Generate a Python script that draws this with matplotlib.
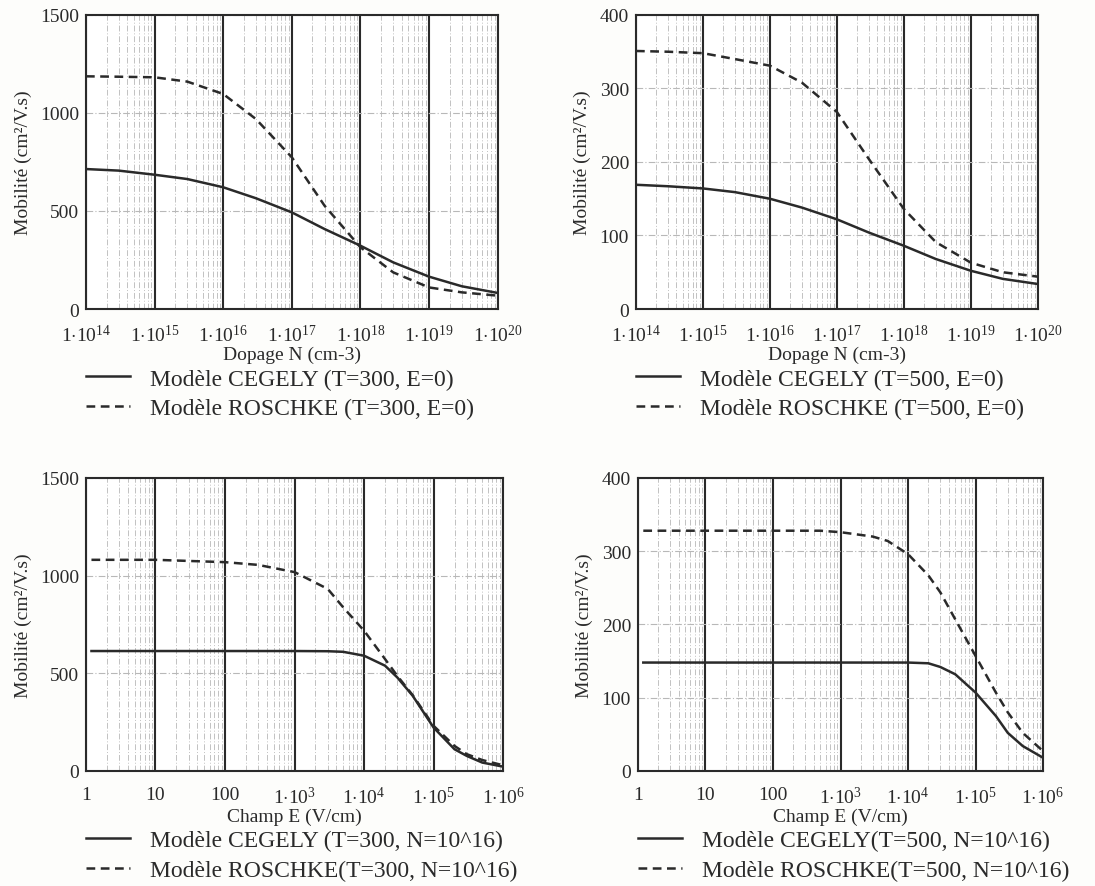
import matplotlib
matplotlib.use("Agg")
import matplotlib.pyplot as plt
from matplotlib.ticker import FixedLocator, LogLocator, NullFormatter
from matplotlib.lines import Line2D

plt.rcParams['font.family'] = ['Liberation Serif', 'DejaVu Serif']
plt.rcParams['mathtext.fontset'] = 'custom'
plt.rcParams['mathtext.rm'] = 'Liberation Serif'
plt.rcParams['mathtext.it'] = 'Liberation Serif:italic'

# ---------------- data ----------------
# Top row: mobility vs doping N (cm-3)
dop_N = [1e14, 3e14, 1e15, 3e15, 1e16, 3e16, 1e17, 3e17, 1e18, 3e18, 1e19, 3e19, 1e20]
cegely_T300_E0 = [714, 706, 685, 663, 621, 565, 493, 408, 323, 238, 165, 116, 82]
roschke_T300_E0 = [1187, 1185, 1182, 1160, 1097, 969, 774, 527, 315, 187, 110, 85, 68]
cegely_T500_E0 = [169, 167, 164, 159, 150, 138, 122, 104, 86, 68, 52, 41, 34]
roschke_T500_E0 = [351, 350, 348, 340, 331, 308, 268, 204, 136, 91, 63, 50, 44]

# Bottom left: mobility vs field E (V/cm), T=300, N=1e16
field_E_a = [1.2, 10, 100, 300, 1e3, 3e3, 5e3, 1e4, 2e4, 3e4, 5e4, 1e5, 2e5, 3e5, 5e5, 1e6]
cegely_T300_N16 = [614, 614, 614, 614, 614, 613, 610, 590, 539, 479, 385, 222, 111, 77, 43, 22]
roschke_T300_N16 = [1081, 1081, 1069, 1055, 1018, 932, 838, 718, 573, 487, 388, 231, 128, 86, 56, 29]

# Bottom right: mobility vs field E (V/cm), T=500, N=1e16
field_E_b = [1.2, 10, 100, 500, 1e3, 3e3, 5e3, 1e4, 2e4, 3e4, 5e4, 1e5, 2e5, 3e5, 5e5, 1e6]
cegely_T500_N16 = [148, 148, 148, 148, 148, 148, 148, 148, 147, 142, 132, 107, 75, 52, 34, 18]
roschke_T500_N16 = [328, 328, 328, 328, 326, 320, 314, 296, 267, 244, 207, 157, 107, 80, 52, 27]

dop_ticks = [1e14, 1e15, 1e16, 1e17, 1e18, 1e19, 1e20]
dop_ticklabels = [r'$1{\cdot}10^{14}$', r'$1{\cdot}10^{15}$', r'$1{\cdot}10^{16}$', r'$1{\cdot}10^{17}$',
                  r'$1{\cdot}10^{18}$', r'$1{\cdot}10^{19}$', r'$1{\cdot}10^{20}$']
field_ticks = [1, 10, 100, 1e3, 1e4, 1e5, 1e6]
field_ticklabels = ['1', '10', '100', r'$1{\cdot}10^{3}$', r'$1{\cdot}10^{4}$',
                    r'$1{\cdot}10^{5}$', r'$1{\cdot}10^{6}$']

ylabel = 'Mobilité (cm²/V.s)'
xlabel_dop = 'Dopage N (cm-3)'
xlabel_field = 'Champ E (V/cm)'

panels = [
    dict(rect=[0.0785, 0.6505, 0.376, 0.3315], x=dop_N, y1=cegely_T300_E0, y2=roschke_T300_E0,
         xlim=(1e14, 1e20), ylim=(0, 1500), yticks=[0, 500, 1000, 1500],
         xticks=dop_ticks, xticklabels=dop_ticklabels, xlabel=xlabel_dop,
         labels=['Modèle CEGELY (T=300, E=0)', 'Modèle ROSCHKE (T=300, E=0)']),
    dict(rect=[0.5808, 0.6505, 0.367, 0.3315], x=dop_N, y1=cegely_T500_E0, y2=roschke_T500_E0,
         xlim=(1e14, 1e20), ylim=(0, 400), yticks=[0, 100, 200, 300, 400],
         xticks=dop_ticks, xticklabels=dop_ticklabels, xlabel=xlabel_dop,
         labels=['Modèle CEGELY (T=500, E=0)', 'Modèle ROSCHKE (T=500, E=0)']),
    dict(rect=[0.0785, 0.1297, 0.381, 0.3303], x=field_E_a, y1=cegely_T300_N16, y2=roschke_T300_N16,
         xlim=(1, 1e6), ylim=(0, 1500), yticks=[0, 500, 1000, 1500],
         xticks=field_ticks, xticklabels=field_ticklabels, xlabel=xlabel_field,
         labels=['Modèle CEGELY (T=300, N=10^16)', 'Modèle ROSCHKE(T=300, N=10^16)']),
    dict(rect=[0.5826, 0.1297, 0.370, 0.3303], x=field_E_b, y1=cegely_T500_N16, y2=roschke_T500_N16,
         xlim=(1, 1e6), ylim=(0, 400), yticks=[0, 100, 200, 300, 400],
         xticks=field_ticks, xticklabels=field_ticklabels, xlabel=xlabel_field,
         labels=['Modèle CEGELY(T=500, N=10^16)', 'Modèle ROSCHKE(T=500, N=10^16)']),
]

fig = plt.figure(figsize=(10.95, 8.87), dpi=100)
fig.patch.set_facecolor('#fdfdfb')
ink = '#2a2a2a'
dash = (0, (3.5, 2.2))

for p in panels:
    ax = fig.add_axes(p['rect'])
    ax.set_facecolor('white')
    ax.set_xscale('log')
    ax.set_xlim(*p['xlim'])
    ax.set_ylim(*p['ylim'])
    ax.xaxis.set_minor_locator(LogLocator(base=10, subs=range(2, 10), numticks=20))
    ax.xaxis.set_minor_formatter(NullFormatter())
    ax.grid(True, which='minor', axis='x', color='#c2c2c2', linestyle=(0, (6, 2, 1, 2)), linewidth=0.7)
    ax.grid(True, which='major', axis='x', color=ink, linestyle='-', linewidth=1.5)
    ax.grid(True, which='major', axis='y', color='#b8b8b8', linestyle=(0, (6, 2, 1, 2)), linewidth=0.8)
    ax.set_axisbelow(True)

    ax.plot(p['x'], p['y1'], color=ink, linewidth=1.8, linestyle='-')
    ax.plot(p['x'], p['y2'], color=ink, linewidth=1.8, linestyle=dash)

    ax.xaxis.set_major_locator(FixedLocator(p['xticks']))
    ax.set_xticklabels(p['xticklabels'])
    ax.set_yticks(p['yticks'])
    ax.tick_params(axis='both', which='both', length=0, labelsize=14, colors=ink)
    ax.tick_params(axis='x', pad=11)
    ax.tick_params(axis='y', pad=5)
    for s in ax.spines.values():
        s.set_color(ink)
        s.set_linewidth(1.5)
    ax.set_xlabel(p['xlabel'], fontsize=14, color=ink, labelpad=0)
    ax.set_ylabel(ylabel, fontsize=14, color=ink, labelpad=6)

    handles = [Line2D([], [], color=ink, linewidth=1.8, linestyle='-'),
               Line2D([], [], color=ink, linewidth=1.8, linestyle=dash)]
    h_ax = p['rect'][3] * 887
    leg = ax.legend(handles, p['labels'], loc='upper left', bbox_to_anchor=(0.0, -59 / h_ax),
                    frameon=False, fontsize=17, handlelength=1.85, handletextpad=0.85,
                    labelspacing=0.33, borderpad=0, borderaxespad=0)
    for t in leg.get_texts():
        t.set_color(ink)

fig.savefig('out.png', dpi=100, facecolor=fig.get_facecolor())
